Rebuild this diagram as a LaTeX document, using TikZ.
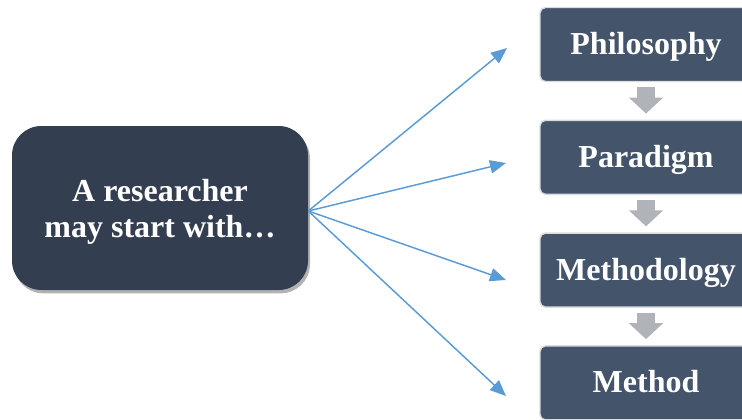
\documentclass[tikz,border=0pt]{standalone}
\usepackage{fontspec}
\setmainfont{Liberation Serif}
\usetikzlibrary{arrows.meta,positioning,shadows}
\definecolor{rsDark}{HTML}{333F50}
\definecolor{rsStep}{HTML}{44546A}
\definecolor{rsEdge}{HTML}{DADCDF}
\definecolor{rsLink}{HTML}{5B9BD5}
\definecolor{rsFlow}{HTML}{B0B3B9}
\tikzset{
  rsnode/.style={
    text=white, align=center, inner sep=0pt,
    font=\fontsize{24}{26.7}\selectfont\bfseries
  },
  starter/.style={fill=rsDark, rounded corners=22pt,
    minimum width=222pt, minimum height=123pt,
    drop shadow={shadow xshift=1.5pt, shadow yshift=-2.5pt, opacity=0.3, fill=black}
  },
  stage/.style={rsnode, fill=rsStep, draw=rsEdge, line width=1.1pt,
    rounded corners=4pt, minimum width=159pt, minimum height=55.5pt,
    text height=16.5pt, text depth=1.5pt
  },
  link/.style={-{Triangle[length=12pt, width=10pt]}, line width=1.1pt, rsLink},
  flowarrow/.style={-{Triangle[length=12pt, width=25pt]}, line width=14pt, rsFlow}
}
\begin{document}
\begin{tikzpicture}[x=0.75pt, y=-0.75pt, node distance=28pt]
  \useasboundingbox (0,0) rectangle (742,419);
  \clip (0,0) rectangle (742,419);
  % starting box
  \node[starter, label={[rsnode, yshift=-3pt]center:A researcher\\may start with…}]
    (start) at (160,208) {};
  % the four stages
  \node[stage] (philo) at (646,44.5) {Philosophy};
  \node[stage, below=of philo] (para) {Paradigm};
  \node[stage, below=of para] (methy) {Methodology};
  \node[stage, below=of methy] (meth) {Method};
  % gray arrows between stages
  \draw[flowarrow] ([yshift=-3.75pt]philo.south) -- ([yshift=4.5pt]para.north);
  \draw[flowarrow] ([yshift=-3.75pt]para.south) -- ([yshift=4.5pt]methy.north);
  \draw[flowarrow] ([yshift=-3.75pt]methy.south) -- ([yshift=4.5pt]meth.north);
  % blue links
  \coordinate (from) at ([yshift=-2.25pt]start.east);
  \coordinate (toPhilo) at (507,48);
  \coordinate (toPara) at (506,163);
  \coordinate (toMethy) at (506,280);
  \coordinate (toMeth) at (506,396);
  \foreach \t in {toPhilo,toPara,toMethy,toMeth}
    \draw[link] (from) -- (\t);
\end{tikzpicture}
\end{document}
